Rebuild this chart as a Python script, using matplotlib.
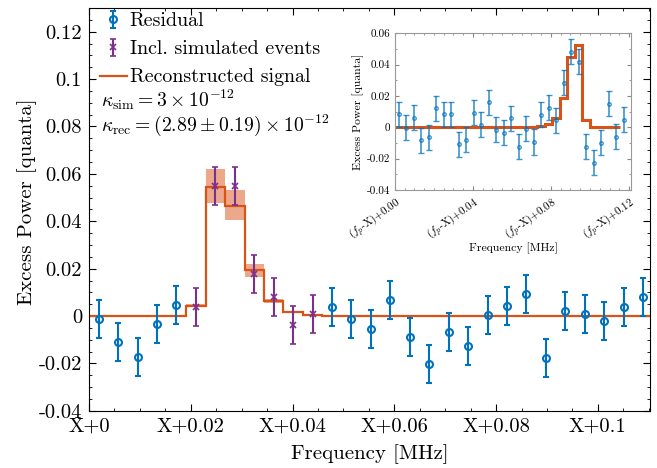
import numpy as np
import matplotlib
matplotlib.use("Agg")
import matplotlib.pyplot as plt
from matplotlib.ticker import MultipleLocator
from matplotlib.legend_handler import HandlerErrorbar

plt.rcParams["font.family"] = "serif"
plt.rcParams["font.serif"] = ["cmr10"]
plt.rcParams["mathtext.fontset"] = "cm"
plt.rcParams["axes.unicode_minus"] = False
plt.rcParams["axes.formatter.use_mathtext"] = True

BLUE = "#0072BD"
PURPLE = "#7E2F8E"
ORANGE = "#D95319"

# main panel: one value per frequency bin
bin_width = 0.00382
power = [-0.0014, -0.0108, -0.0172, -0.0034, 0.0045, 0.0038, 0.0549, 0.0549,
         0.0177, 0.0082, -0.0037, 0.0007, 0.0037, -0.0014, -0.0056, 0.0069,
         -0.0090, -0.0204, -0.0068, -0.0128, 0.0004, 0.0041, 0.0093, -0.0176,
         0.0023, 0.0008, -0.0021, 0.0039, 0.0079]
power_err = [0.008] * 29
sim_bins = [5, 6, 7, 8, 9, 10, 11]

signal = [0, 0, 0, 0, 0, 0.0044, 0.0545, 0.0466, 0.0193, 0.0065, 0.0018,
          0.0006, 0.0001, 0, 0, 0, 0, 0, 0, 0, 0, 0, 0, 0, 0, 0, 0, 0, 0]
signal_lo = [0, 0, 0, 0, 0, 0.0038, 0.0476, 0.0406, 0.0166, 0.0057, 0.0016,
             0.0005, 0.0001, 0, 0, 0, 0, 0, 0, 0, 0, 0, 0, 0, 0, 0, 0, 0, 0]
signal_hi = [0, 0, 0, 0, 0, 0.0050, 0.0620, 0.0530, 0.0220, 0.0073, 0.0021,
             0.0007, 0.0001, 0, 0, 0, 0, 0, 0, 0, 0, 0, 0, 0, 0, 0, 0, 0, 0]

xticks = [0, 0.02, 0.04, 0.06, 0.08, 0.1]
xtick_labels = ["X+0", "X+0.02", "X+0.04", "X+0.06", "X+0.08", "X+0.1"]
yticks = [-0.04, -0.02, 0, 0.02, 0.04, 0.06, 0.08, 0.1, 0.12]
ytick_labels = ["-0.04", "-0.02", "0", "0.02", "0.04", "0.06", "0.08", "0.1", "0.12"]

# inset: full data set
ins_width = 0.003846
ins_power = [0.0083, -0.0003, 0.0062, -0.0083, -0.0065, 0.0120, 0.0082, 0.0084,
             -0.0108, -0.0079, 0.0093, 0.0017, 0.0161, -0.0016, -0.0035, 0.0058,
             -0.0123, -0.0009, -0.0094, 0.0081, 0.0126, 0.0045, 0.0283, 0.0481,
             0.0417, -0.0123, -0.0226, -0.0098, 0.0149, -0.0060, 0.0049]
ins_err = [0.008] * 31
ins_signal = [0, 0, 0, 0, 0, 0, 0, 0, 0, 0, 0, 0, 0, 0, 0, 0, 0, 0, 0, 0.0009,
              0.0020, 0.0060, 0.0190, 0.0447, 0.0528, 0.0045, 0, 0, 0, 0]
ins_xticks = [0.0, 0.04, 0.08, 0.12]
ins_xtick_labels = [r"($f_p$-X)+0.00", r"($f_p$-X)+0.04", r"($f_p$-X)+0.08", r"($f_p$-X)+0.12"]
ins_yticks = [-0.04, -0.02, 0, 0.02, 0.04, 0.06]
ins_ytick_labels = ["-0.04", "-0.02", "0", "0.02", "0.04", "0.06"]

fig = plt.figure(figsize=(6.57, 4.68), dpi=100)
ax = fig.add_axes([0.1355, 0.122, 0.8535, 0.861])

x = (np.arange(len(power)) + 0.5) * bin_width
y = np.array(power)
err = np.array(power_err)
is_sim = np.isin(np.arange(len(power)), sim_bins)
edges = np.arange(len(signal) + 1) * bin_width

ax.stairs(signal_hi, edges, baseline=signal_lo, fill=True, color=ORANGE,
          alpha=0.5, lw=0, zorder=1)
h_res = ax.errorbar(x[~is_sim], y[~is_sim], yerr=err[~is_sim], fmt="o", color=BLUE,
                    mfc="none", ms=5, mew=1.5, elinewidth=1.5, capsize=2.5,
                    capthick=1.5, zorder=3)
h_sim = ax.errorbar(x[is_sim], y[is_sim], yerr=err[is_sim], fmt="x", color=PURPLE,
                    ms=4, mew=1.2, elinewidth=1.5, capsize=2.5, capthick=1.5, zorder=3)
h_sig = ax.stairs(signal, edges, color=ORANGE, lw=1.6, baseline=None, zorder=2)

ax.set_xlim(0, 0.1102)
ax.set_ylim(-0.04, 0.13)
ax.set_xticks(xticks)
ax.set_xticklabels(xtick_labels)
ax.set_yticks(yticks)
ax.set_yticklabels(ytick_labels)
ax.xaxis.set_minor_locator(MultipleLocator(0.005))
ax.yaxis.set_minor_locator(MultipleLocator(0.005))
ax.tick_params(which="both", direction="in", top=True, right=True, labelsize=14.8)
ax.tick_params(which="major", length=5)
ax.tick_params(which="minor", length=2.5)
ax.tick_params(axis="x", pad=5)
ax.tick_params(axis="y", pad=5)
ax.set_xlabel("Frequency [MHz]", fontsize=15, labelpad=6)
ax.set_ylabel("Excess Power [quanta]", fontsize=15)
ax.yaxis.set_label_coords(-0.093, 0.52)

eb_handler = HandlerErrorbar(yerr_size=0.42)
ax.legend([h_res, h_sim, h_sig],
          ["Residual", "Incl. simulated events", "Reconstructed signal"],
          loc="upper left", bbox_to_anchor=(0.012, 1.0), frameon=False,
          fontsize=14.4, handlelength=1.35, handleheight=0.55, handletextpad=0.15,
          borderaxespad=0.0, borderpad=0.2, labelspacing=0.5,
          handler_map={h_res: eb_handler, h_sim: eb_handler})
ax.text(0.021, 0.755, r"$\kappa_{\mathrm{sim}} = 3 \times 10^{-12}$",
        transform=ax.transAxes, fontsize=14.2, va="baseline")
ax.text(0.021, 0.696, r"$\kappa_{\mathrm{rec}} = (2.89 \pm 0.19) \times 10^{-12}$",
        transform=ax.transAxes, fontsize=14.2, va="baseline")

# inset
axi = fig.add_axes([0.601, 0.594, 0.36, 0.335])
xi = (np.arange(len(ins_power)) + 0.5) * ins_width
ins_edges = np.arange(len(ins_signal) + 1) * ins_width
axi.errorbar(xi, ins_power, yerr=ins_err, fmt="o", color=BLUE, ms=2.5, mfc="none",
             mew=1.0, ecolor=BLUE, elinewidth=1.2, capsize=2.5, capthick=1.0,
             alpha=0.75)
axi.stairs(ins_signal, ins_edges, color=ORANGE, lw=2.2, baseline=None)
axi.set_xlim(0, 0.1212)
axi.set_ylim(-0.04, 0.06)
axi.set_xticks(ins_xticks)
axi.set_xticklabels(ins_xtick_labels, rotation=35, ha="right", rotation_mode="anchor")
axi.set_yticks(ins_yticks)
axi.set_yticklabels(ins_ytick_labels)
axi.xaxis.set_minor_locator(MultipleLocator(0.005))
axi.yaxis.set_minor_locator(MultipleLocator(0.01))
axi.tick_params(which="both", direction="in", top=True, right=True, labelsize=8,
                color="#888888")
axi.tick_params(which="major", length=3)
axi.tick_params(which="minor", length=1.5)
for s in axi.spines.values():
    s.set_color("#999999")
axi.set_xlabel("Frequency [MHz]", fontsize=8.5, labelpad=-1)
axi.set_ylabel("Excess Power [quanta]", fontsize=8.5, labelpad=2)

fig.savefig("out.png", dpi=100)
